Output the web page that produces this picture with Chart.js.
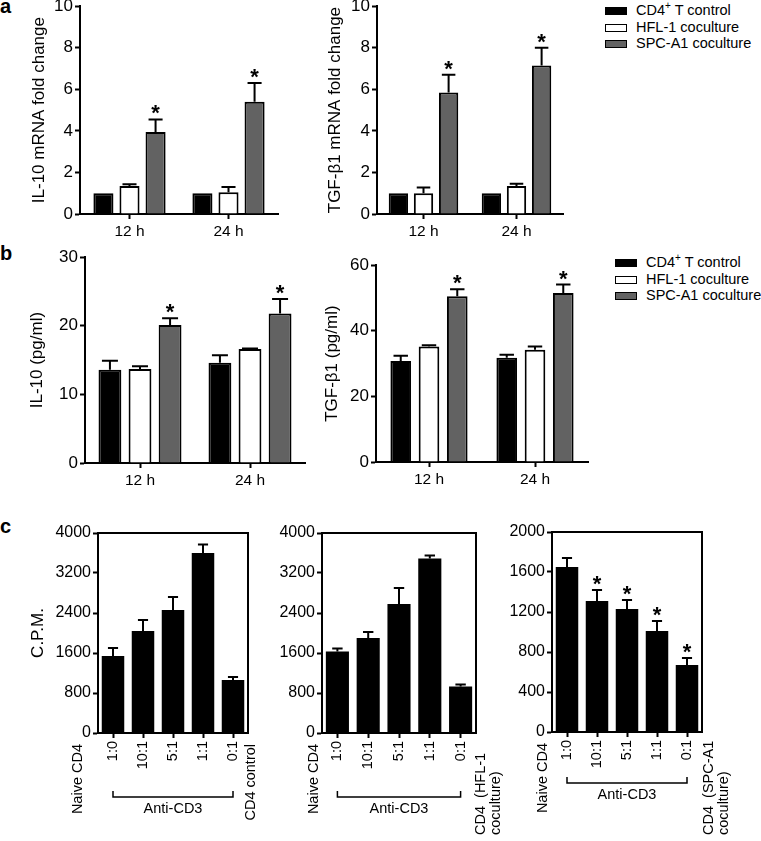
<!DOCTYPE html>
<html>
<head>
<meta charset="utf-8">
<script src="https://cdn.jsdelivr.net/npm/chart.js@4.4.0/dist/chart.umd.min.js"></script>
<style>
  body { margin: 0; background: #fff; width: 761px; height: 841px; position: relative; overflow: hidden;
         font-family: "Liberation Sans", Arial, sans-serif; color: #000; }
  canvas { position: absolute; }
  .panel { position: absolute; font-weight: bold; font-size: 20px; line-height: 20px; }
  .legend { position: absolute; font-size: 14.5px; }
  .legend div { height: 16.5px; line-height: 16.5px; white-space: nowrap; }
  .legend .box { display: inline-block; box-sizing: border-box; width: 22px; height: 8px; border: 1.5px solid #000;
                 margin-right: 9px; vertical-align: middle; }
  .legend sup { font-size: 10px; line-height: 0; }
</style>
</head>
<body>
<div class="panel" style="left:0;top:-4px">a</div>
<div class="panel" style="left:0;top:243px">b</div>
<div class="panel" style="left:0;top:516px">c</div>

<div class="legend" style="left:605px;top:2px">
  <div><span class="box" style="background:#000"></span>CD4<sup>+</sup> T control</div>
  <div><span class="box" style="background:#fff"></span>HFL-1 coculture</div>
  <div><span class="box" style="background:#626262"></span>SPC-A1 coculture</div>
</div>
<div class="legend" style="left:615px;top:254px">
  <div><span class="box" style="background:#000"></span>CD4<sup>+</sup> T control</div>
  <div><span class="box" style="background:#fff"></span>HFL-1 coculture</div>
  <div><span class="box" style="background:#626262"></span>SPC-A1 coculture</div>
</div>

<canvas id="a1"></canvas>
<canvas id="a2"></canvas>
<canvas id="b1"></canvas>
<canvas id="b2"></canvas>
<canvas id="c1"></canvas>
<canvas id="c2"></canvas>
<canvas id="c3"></canvas>

<script>
// categories
const timeLabels = ['12 h', '24 h'];
const ratioLabels = ['1:0', '10:1', '5:1', '1:1', '0:1'];
const seriesNames = ['CD4+ T control', 'HFL-1 coculture', 'SPC-A1 coculture'];
const seriesColors = ['#000000', '#ffffff', '#626262'];

// a: IL-10 mRNA fold change
const aIl10Control = [1.0, 1.0];
const aIl10Hfl = [1.35, 1.05];
const aIl10Spc = [3.95, 5.4];
const aIl10HflErr = [0.08, 0.25];
const aIl10SpcErr = [0.6, 0.9];

// a: TGF-b1 mRNA fold change
const aTgfControl = [1.0, 1.0];
const aTgfHfl = [1.0, 1.35];
const aTgfSpc = [5.85, 7.15];
const aTgfHflErr = [0.27, 0.1];
const aTgfSpcErr = [0.85, 0.85];

// b: IL-10 (pg/ml)
const bIl10Control = [13.6, 14.6];
const bIl10Hfl = [13.7, 16.6];
const bIl10Spc = [20.1, 21.8];
const bIl10ControlErr = [1.3, 1.1];
const bIl10HflErr = [0.4, 0.1];
const bIl10SpcErr = [1.0, 2.1];

// b: TGF-b1 (pg/ml)
const bTgfControl = [30.8, 31.8];
const bTgfHfl = [35.2, 34.2];
const bTgfSpc = [50.5, 51.5];
const bTgfControlErr = [1.6, 0.9];
const bTgfHflErr = [0.4, 1.0];
const bTgfSpcErr = [2.2, 2.6];

// c: C.P.M.
const cControl = [1540, 2040, 2460, 3600, 1060];
const cControlErr = [160, 220, 260, 170, 60];
const cHfl = [1630, 1900, 2580, 3490, 930];
const cHflErr = [60, 120, 320, 60, 40];
const cSpc = [1650, 1310, 1230, 1010, 670];
const cSpcErr = [90, 110, 90, 100, 70];
const cSpcStar = [false, true, true, true, true];

Chart.defaults.font.family = '"Liberation Sans", Arial, sans-serif';
Chart.defaults.color = '#000';

// whiskers (upper only) and significance stars
const barExtras = {
  id: 'barExtras',
  afterDatasetsDraw(chart, args, opts) {
    const { ctx, scales: { y } } = chart;
    ctx.save();
    ctx.strokeStyle = '#000';
    ctx.fillStyle = '#000';
    ctx.lineWidth = 2;
    chart.data.datasets.forEach((ds, di) => {
      chart.getDatasetMeta(di).data.forEach((bar, i) => {
        const err = ds.err ? ds.err[i] : 0;
        const yTop = y.getPixelForValue(ds.data[i] + err);
        if (err > 0) {
          const half = bar.width * opts.cap / 2;
          ctx.beginPath();
          ctx.moveTo(bar.x, bar.y);
          ctx.lineTo(bar.x, yTop);
          ctx.moveTo(bar.x - half, yTop);
          ctx.lineTo(bar.x + half, yTop);
          ctx.stroke();
        }
        if (ds.star && ds.star[i]) {
          ctx.font = 'bold 22px "Liberation Sans", Arial';
          ctx.textAlign = 'center';
          ctx.textBaseline = 'alphabetic';
          ctx.fillText('*', bar.x, yTop + 1);
        }
      });
    });
    ctx.restore();
  }
};

// box round the plot in panel c
const frame = {
  id: 'frame',
  afterDraw(chart) {
    const { ctx, chartArea: a } = chart;
    ctx.save();
    ctx.strokeStyle = '#000';
    ctx.lineWidth = 2;
    ctx.beginPath();
    ctx.moveTo(a.left, a.top);
    ctx.lineTo(a.right, a.top);
    ctx.lineTo(a.right, a.bottom);
    ctx.stroke();
    ctx.restore();
  }
};

function rotText(ctx, text, px, py, align) {
  ctx.save();
  ctx.translate(px, py);
  ctx.rotate(-Math.PI / 2);
  ctx.textAlign = align;
  ctx.textBaseline = 'middle';
  ctx.fillText(text, 0, 0);
  ctx.restore();
}

// Naive CD4 / CD4 (...) labels and the Anti-CD3 bracket
const sideLabels = {
  id: 'sideLabels',
  afterDraw(chart, args, opts) {
    const { ctx, chartArea: a, scales: { x } } = chart;
    ctx.save();
    ctx.fillStyle = '#000';
    ctx.strokeStyle = '#000';
    ctx.font = '14.5px "Liberation Sans", Arial';
    rotText(ctx, 'Naive CD4', a.left + opts.leftDx, x.top + 11, 'right');
    opts.right.forEach((t, k) => {
      if (opts.bottomAlign) rotText(ctx, t, a.right + opts.rightDx + k * 15, x.bottom - 6, 'left');
      else rotText(ctx, t, a.right + opts.rightDx + k * 15, x.top + 11, 'right');
    });
    const x0 = x.getPixelForValue(0);
    const x1 = x.getPixelForValue(ratioLabels.length - 1);
    const yb = x.top + opts.bracketY;
    ctx.lineWidth = 1.5;
    ctx.beginPath();
    ctx.moveTo(x0, yb - 6);
    ctx.lineTo(x0, yb);
    ctx.lineTo(x1, yb);
    ctx.lineTo(x1, yb - 6);
    ctx.stroke();
    ctx.font = '14.5px "Liberation Sans", Arial';
    ctx.textAlign = 'center';
    ctx.textBaseline = 'top';
    ctx.fillText('Anti-CD3', (x0 + x1) / 2, yb + 5);
    ctx.restore();
  }
};

// box = [L, T, R, B, yAxisWidth, padTop, padRight, xAxisHeight]
function place(id, box) {
  const [L, T, R, B, yw, padTop, padRight, xh] = box;
  const c = document.getElementById(id);
  const w = (R - L) + yw + padRight;
  const h = (B - T) + padTop + xh;
  c.style.left = (L - yw) + 'px';
  c.style.top = (T - padTop) + 'px';
  c.style.width = w + 'px';
  c.style.height = h + 'px';
  c.width = w;
  c.height = h;
  return c;
}

function yAxis(max, step, title, yw, size) {
  return {
    min: 0, max: max,
    ticks: { stepSize: step, padding: 2, font: { size: size }, color: '#000', callback: v => String(v) },
    grid: { drawOnChartArea: false, tickLength: 5, tickColor: '#000', tickWidth: 2 },
    border: { color: '#000', width: 2 },
    title: { display: !!title, text: title, font: { size: 17 }, padding: 0, color: '#000' },
    afterFit: s => { s.width = yw; }
  };
}

function xAxis(xh, rot, size) {
  return {
    grid: { offset: false, drawOnChartArea: false, tickLength: 5, tickColor: '#000', tickWidth: 2 },
    border: { color: '#000', width: 2 },
    ticks: { padding: 3, font: { size: size }, color: '#000', autoSkip: false, minRotation: rot, maxRotation: rot },
    afterFit: s => { s.height = xh; }
  };
}

function groupedChart(id, box, yMax, yStep, yTitle, values, errs, catPct, barPct) {
  const canvas = place(id, box);
  return new Chart(canvas, {
    type: 'bar',
    data: {
      labels: timeLabels,
      datasets: values.map((v, k) => ({
        label: seriesNames[k],
        data: v,
        err: errs[k],
        star: k === 2 ? [true, true] : null,
        backgroundColor: seriesColors[k],
        borderColor: '#000',
        borderWidth: 2,
        categoryPercentage: catPct,
        barPercentage: barPct
      }))
    },
    options: {
      responsive: false,
      animation: false,
      layout: { padding: { top: box[5], right: box[6], left: 0, bottom: 0 } },
      plugins: { legend: { display: false }, tooltip: { enabled: false }, barExtras: { cap: 0.7 } },
      scales: { x: xAxis(box[7], 0, 15.5), y: yAxis(yMax, yStep, yTitle, box[4], 17) }
    },
    plugins: [barExtras]
  });
}

function cpmChart(id, box, yMax, yStep, yTitle, values, errs, stars, side) {
  const canvas = place(id, box);
  return new Chart(canvas, {
    type: 'bar',
    data: {
      labels: ratioLabels,
      datasets: [{
        data: values,
        err: errs,
        star: stars,
        backgroundColor: '#000',
        borderWidth: 0,
        categoryPercentage: 1,
        barPercentage: 0.75
      }]
    },
    options: {
      responsive: false,
      animation: false,
      layout: { padding: { top: box[5], right: box[6], left: 0, bottom: 0 } },
      plugins: { legend: { display: false }, tooltip: { enabled: false }, barExtras: { cap: 0.45 }, sideLabels: side },
      scales: { x: xAxis(box[7], 90, 14.5), y: yAxis(yMax, yStep, yTitle, box[4], 16) }
    },
    plugins: [barExtras, frame, sideLabels]
  });
}

groupedChart('a1', [80, 6, 278, 214, 51, 12, 4, 32], 10, 2, 'IL-10 mRNA fold change',
  [aIl10Control, aIl10Hfl, aIl10Spc], [null, aIl10HflErr, aIl10SpcErr], 0.79, 0.77);
groupedChart('a2', [377, 6, 563, 214, 52, 12, 4, 32], 10, 2, 'TGF-\u03b21 mRNA fold change',
  [aTgfControl, aTgfHfl, aTgfSpc], [null, aTgfHflErr, aTgfSpcErr], 0.81, 0.77);
groupedChart('b1', [85, 257, 305, 463, 58, 12, 4, 32], 30, 10, 'IL-10 (pg/ml)',
  [bIl10Control, bIl10Hfl, bIl10Spc], [bIl10ControlErr, bIl10HflErr, bIl10SpcErr], 0.82, 0.76);
groupedChart('b2', [376, 265, 588, 462, 54, 12, 4, 32], 60, 20, 'TGF-\u03b21 (pg/ml)',
  [bTgfControl, bTgfHfl, bTgfSpc], [bTgfControlErr, bTgfHflErr, bTgfSpcErr], 0.8, 0.73);

cpmChart('c1', [98, 533, 248, 733, 70, 12, 30, 108], 4000, 800, 'C.P.M.',
  cControl, cControlErr, null, { leftDx: -20, rightDx: 3, right: ['CD4 control'], bottomAlign: false, bracketY: 64 });
cpmChart('c2', [322, 533, 476, 733, 50, 12, 30, 108], 4000, 800, '',
  cHfl, cHflErr, null, { leftDx: -8, rightDx: 5, right: ['CD4  (HFL-1', 'coculture)'], bottomAlign: true, bracketY: 64 });
cpmChart('c3', [552, 532, 702, 732, 50, 12, 30, 109], 2000, 400, '',
  cSpc, cSpcErr, cSpcStar, { leftDx: -9, rightDx: 7, right: ['CD4  (SPC-A1', 'coculture)'], bottomAlign: true, bracketY: 51 });
</script>
</body>
</html>
